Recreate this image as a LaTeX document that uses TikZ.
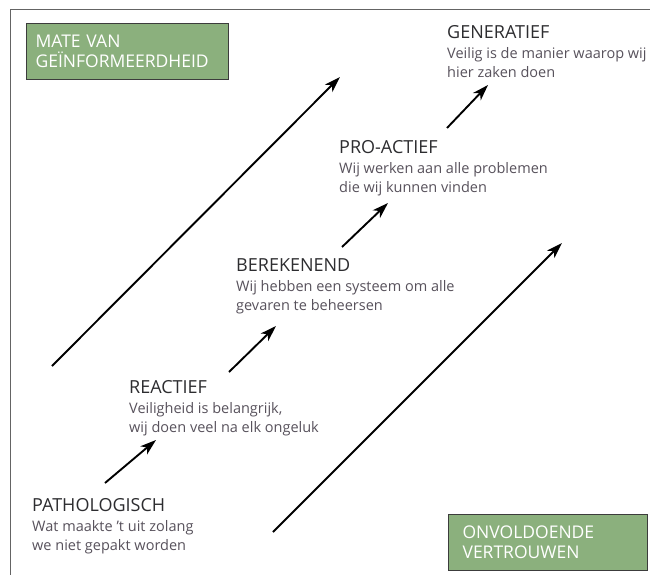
\documentclass[tikz,border=0pt]{standalone}
\usepackage{fontspec}
\setmainfont{Open Sans}
\usetikzlibrary{arrows.meta}
\usepackage{xcolor}

\definecolor{boxgreen}{RGB}{139,176,125}
\definecolor{boxline}{RGB}{60,60,60}
\definecolor{headgray}{RGB}{45,45,48}
\definecolor{bodygray}{RGB}{88,82,92}
\definecolor{framegray}{RGB}{100,100,100}

\newcommand{\stagehead}[1]{{\fontsize{18}{19}\selectfont\color{headgray}#1}}

\begin{document}
\begin{tikzpicture}[
  x=1pt, y=-1pt,
  every node/.style={inner sep=0pt},
  stage/.style={
    anchor=base west, align=left, text=bodygray,
    font=\fontsize{14.5}{19}\selectfont
  },
  infobox/.style={
    anchor=north west, draw=boxline, line width=1.2pt,
    fill=boxgreen, text=white, align=left,
    font=\fontsize{17.5}{20}\selectfont,
    minimum height=56pt
  },
  climb/.style={
    line width=1.9pt,
    -{Stealth[length=16pt, width=10.5pt, inset=4.5pt]}
  }
]

% ---- canvas and frame ----
\useasboundingbox[fill=white] (0,0) rectangle (650,575);
\draw[framegray, line width=1pt] (650,10) -- (10,10) -- (10,575);

% ---- green label boxes ----
\node[infobox, text width=184pt, inner xsep=9pt] (informed) at (26,23)
  {MATE VAN\\GEÏNFORMEERDHEID};
\node[infobox, text width=171pt, inner xsep=14pt] (trust) at (448,514)
  {ONVOLDOENDE\\VERTROUWEN};

% ---- stages (bottom to top), placed on the baseline of their last line ----
\node[stage] (patho) at (32,550)
  {\stagehead{PATHOLOGISCH}\\[1pt]
   Wat maakte 't uit zolang\\
   we niet gepakt worden};

\node[stage] (react) at (129,432)
  {\stagehead{REACTIEF}\\[1pt]
   Veiligheid is belangrijk,\\
   wij doen veel na elk ongeluk};

\node[stage] (calc) at (236,310)
  {\stagehead{BEREKENEND}\\[1pt]
   Wij hebben een systeem om alle\\
   gevaren te beheersen};

\node[stage] (proact) at (339,192)
  {\stagehead{PRO-ACTIEF}\\[1pt]
   Wij werken aan alle problemen\\
   die wij kunnen vinden};

\node[stage] (gener) at (447,78)
  {\stagehead{GENERATIEF}\\[1pt]
   Veilig is de manier waarop wij\\
   hier zaken doen};

% ---- arrow ends ----
\coordinate (patho-up) at (105,483);
\coordinate (react-in) at (156,440);
\coordinate (react-up) at (229,372);
\coordinate (calc-in) at (276,326);
\coordinate (calc-up) at (342,247);
\coordinate (proact-in) at (388,203);
\coordinate (proact-up) at (447,128);
\coordinate (gener-in) at (488,85);
\coordinate (informed-low) at (52,366);
\coordinate (informed-high) at (340,77);
\coordinate (trust-low) at (273,532);
\coordinate (trust-high) at (562,243);

% ---- step arrows between stages ----
\draw[climb] (patho-up) -- (react-in);
\draw[climb] (react-up) -- (calc-in);
\draw[climb] (calc-up) -- (proact-in);
\draw[climb] (proact-up) -- (gener-in);

% ---- long arrows: informedness and trust ----
\draw[climb] (informed-low) -- (informed-high);
\draw[climb] (trust-low) -- (trust-high);

\end{tikzpicture}
\end{document}
